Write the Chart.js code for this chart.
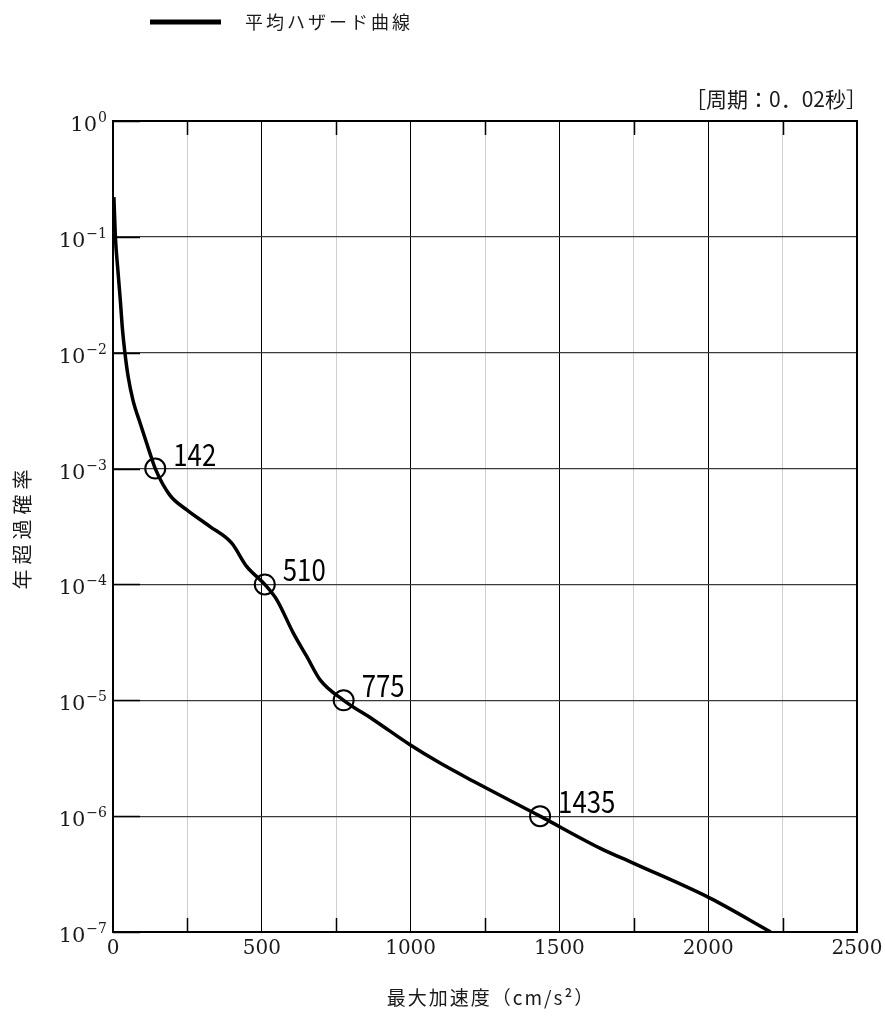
<!DOCTYPE html>
<html>
<head>
<meta charset="utf-8">
<script src="https://cdn.jsdelivr.net/npm/chart.js@4/dist/chart.umd.min.js"></script>
<style>
  body { margin: 0; background: #fff; }
  canvas { display: block; }
</style>
</head>
<body>
<canvas id="hazardChart" width="885" height="1016"></canvas>
<script>
// 平均ハザード曲線 (周期 0.02秒)
const accel = [3, 8, 15.5, 24.5, 32, 40, 51, 67, 91, 124, 142, 191, 248, 326, 399, 449, 510, 550, 606, 651, 696,
    775, 875, 998, 1099, 1211, 1435, 1636, 1748, 2006, 2210];
const exceedProb = [0.22, 0.1, 5.5e-2, 2.86e-2, 1.57e-2, 1e-2, 6.2e-3, 3.9e-3, 2.47e-3, 1.36e-3, 1e-3, 5.9e-4, 4.4e-4,
    3.16e-4, 2.27e-4, 1.43e-4, 1e-4, 7.4e-5, 3.8e-5, 2.39e-5, 1.5e-5, 1e-5, 6.8e-6, 4.13e-6, 2.87e-6,
    2.0e-6, 1e-6, 5.3e-7, 3.93e-7, 1.96e-7, 1e-7];

// 丸印と数値
const markerAccel = [142, 510, 775, 1435];
const markerProb = [1e-3, 1e-4, 1e-5, 1e-6];
const markerLabels = ['142', '510', '775', '1435'];

// 軸目盛
const xTickLabels = ['0', '500', '1000', '1500', '2000', '2500'];
const yTickValues = [1, 1e-1, 1e-2, 1e-3, 1e-4, 1e-5, 1e-6, 1e-7];
const yTickExponents = ['0', '−1', '−2', '−3', '−4', '−5', '−6', '−7'];

const legendText = '平均ハザード曲線';
const periodNote = '［周期：0．02秒］';
const xTitle = '最大加速度（cm/s²）';
const yTitle = '年超過確率';

const SERIF = '"DejaVu Serif", "Noto Sans CJK JP", serif';
const JP = '"Noto Sans CJK JP", sans-serif';

const decorPlugin = {
    id: 'decor',
    beforeDatasetsDraw(chart) {
        const { ctx, chartArea: a, scales: { x, y } } = chart;
        ctx.save();
        ctx.strokeStyle = '#000';
        ctx.lineWidth = 1.5;
        // short dark ticks on left edge of each decade line
        yTickValues.forEach(v => {
            const py = Math.round(y.getPixelForValue(v)) + 0.5;
            ctx.beginPath();
            ctx.moveTo(a.left, py);
            ctx.lineTo(a.left + 27, py);
            ctx.stroke();
        });
        // short dark ticks at the ends of the light grid lines
        x.ticks.forEach(t => {
            if (t.value % 500 === 0) return;
            const px = Math.round(x.getPixelForValue(t.value)) + 0.5;
            ctx.beginPath();
            ctx.moveTo(px, a.top);
            ctx.lineTo(px, a.top + 14);
            ctx.moveTo(px, a.bottom - 14);
            ctx.lineTo(px, a.bottom);
            ctx.stroke();
        });
        ctx.restore();
    },
    afterDraw(chart) {
        const { ctx, chartArea: a, scales: { y } } = chart;
        ctx.save();

        // frame
        ctx.strokeStyle = '#000';
        ctx.lineWidth = 2;
        ctx.strokeRect(a.left, a.top, a.right - a.left, a.bottom - a.top);

        // y tick labels 10^n
        ctx.fillStyle = '#1a1a1a';
        ctx.textAlign = 'right';
        ctx.textBaseline = 'alphabetic';
        yTickValues.forEach((v, i) => {
            const py = y.getPixelForValue(v);
            ctx.font = '14px ' + SERIF;
            const ew = ctx.measureText(yTickExponents[i]).width;
            ctx.fillText(yTickExponents[i], a.left - 6, py + 1);
            ctx.font = '21px ' + SERIF;
            ctx.fillText('10', a.left - 7 - ew, py + 10);
        });

        // marker labels (narrow gothic digits)
        const meta = chart.getDatasetMeta(1);
        ctx.fillStyle = '#000';
        ctx.textAlign = 'left';
        ctx.font = '30px ' + JP;
        meta.data.forEach((pt, i) => {
            ctx.save();
            ctx.translate(pt.x + 18, pt.y - 3);
            ctx.scale(0.86, 1);
            ctx.fillText(markerLabels[i], 0, 0);
            ctx.restore();
        });

        // period note
        ctx.fillStyle = '#1a1a1a';
        ctx.textAlign = 'right';
        ctx.textBaseline = 'middle';
        ctx.font = '21px ' + JP;
        ctx.fillText(periodNote, 867, 99);

        // axis titles, spaced like the original
        if ('letterSpacing' in ctx) ctx.letterSpacing = '2px';
        ctx.textAlign = 'center';
        ctx.font = '19px ' + JP;
        ctx.fillText(xTitle, 491, 998);
        ctx.save();
        ctx.translate(22, 527);
        ctx.rotate(-Math.PI / 2);
        if ('letterSpacing' in ctx) ctx.letterSpacing = '5px';
        ctx.font = '20px ' + JP;
        ctx.fillText(yTitle, 0, 0);
        ctx.restore();

        // legend
        ctx.strokeStyle = '#000';
        ctx.lineWidth = 5;
        ctx.beginPath();
        ctx.moveTo(150, 22);
        ctx.lineTo(221, 22);
        ctx.stroke();
        ctx.textAlign = 'left';
        ctx.font = '18px ' + JP;
        if ('letterSpacing' in ctx) ctx.letterSpacing = '3px';
        ctx.fillText(legendText, 245, 22);
        ctx.restore();
    }
};

const curvePoints = accel.map((v, i) => ({ x: v, y: exceedProb[i] }));
const markerPoints = markerAccel.map((v, i) => ({ x: v, y: markerProb[i] }));

new Chart(document.getElementById('hazardChart'), {
    type: 'scatter',
    data: {
        datasets: [
            {
                label: legendText,
                data: curvePoints,
                showLine: true,
                borderColor: '#000',
                borderWidth: 3.5,
                pointRadius: 0,
                cubicInterpolationMode: 'monotone'
            },
            {
                label: 'markers',
                data: markerPoints,
                pointRadius: 10,
                pointBorderWidth: 2,
                pointBorderColor: '#000',
                pointBackgroundColor: 'rgba(0,0,0,0)'
            }
        ]
    },
    options: {
        responsive: false,
        animation: false,
        devicePixelRatio: 1,
        layout: { padding: { left: 0, right: 28, top: 121, bottom: 0 } },
        plugins: {
            legend: { display: false },
            tooltip: { enabled: false }
        },
        scales: {
            x: {
                type: 'linear',
                min: 0,
                max: 2500,
                afterFit: s => {
                    s.height = 84;
                    s.paddingLeft = 0;
                    s.paddingRight = 0;
                },
                ticks: {
                    stepSize: 250,
                    autoSkip: false,
                    maxRotation: 0,
                    padding: 5,
                    color: '#1a1a1a',
                    font: { family: SERIF, size: 20 },
                    callback: v => (v % 500 === 0 ? xTickLabels[v / 500] : '')
                },
                grid: {
                    drawTicks: false,
                    lineWidth: 1,
                    color: c => (c.tick && c.tick.value % 500 === 0 ? '#000' : '#cfcfcf')
                },
                border: { color: '#000', width: 2 }
            },
            y: {
                type: 'logarithmic',
                min: 1e-7,
                max: 1,
                afterBuildTicks: s => { s.ticks = yTickValues.map(v => ({ value: v })); },
                afterFit: s => { s.width = 113; },
                ticks: { display: false },
                grid: { drawTicks: false, color: '#3a3a3a', lineWidth: 1.2 },
                border: { color: '#000', width: 2 }
            }
        }
    },
    plugins: [decorPlugin]
});
</script>
</body>
</html>
